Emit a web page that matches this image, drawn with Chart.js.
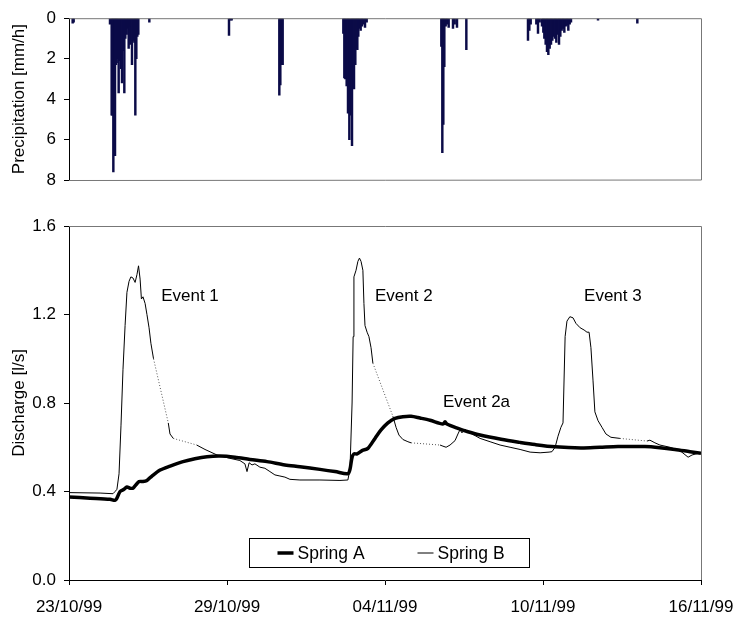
<!DOCTYPE html>
<html>
<head>
<meta charset="utf-8">
<script src="https://cdn.jsdelivr.net/npm/chart.js@4/dist/chart.umd.min.js"></script>
<style>
  html, body { margin: 0; padding: 0; background: #fff; }
  #wrap { position: relative; width: 738px; height: 617px; }
  #c1 { position: absolute; left: 0; top: 0; }
  #c2 { position: absolute; left: 0; top: 200px; }
</style>
</head>
<body>
<div id="wrap">
  <canvas id="c1" width="738" height="200"></canvas>
  <canvas id="c2" width="738" height="417"></canvas>
</div>
<script>
// ---------- DATA ----------
// time axis: days after 23/10/99 00:00
const xTickLabels = ['23/10/99', '29/10/99', '04/11/99', '10/11/99', '16/11/99'];

// hourly precipitation [mm/h] (only non-zero hours)
const precipDay = [
  0.139, 0.177,
  1.557, 1.620, 1.645, 1.684, 1.722, 1.747, 1.785, 1.810, 1.848, 1.886, 1.937, 1.975, 2.013, 2.063,
  2.101, 2.139, 2.190, 2.228, 2.266, 2.316, 2.354, 2.392, 2.443, 2.481, 2.519, 2.557, 2.595, 2.633,
  3.051,
  6.076, 6.127, 6.177,
  7.987, 8.025, 8.076, 8.114,
  10.418, 10.456, 10.494, 10.544, 10.595, 10.646, 10.696, 10.747, 10.785, 10.823, 10.873, 10.911,
  10.949, 10.987, 11.025, 11.076, 11.127, 11.177, 11.241, 11.304,
  14.139, 14.177, 14.215, 14.253, 14.304, 14.354, 14.418, 14.582, 14.646, 14.734,
  15.089,
  17.430, 17.481, 17.532, 17.747, 17.810, 17.873, 17.962, 18.013, 18.051, 18.101, 18.152, 18.203,
  18.253, 18.304, 18.354, 18.405, 18.456, 18.506, 18.557, 18.608, 18.658, 18.709, 18.759, 18.810,
  18.861, 18.911, 18.962, 19.013, 19.063,
  20.089, 21.582
];
const precipValue = [
  0.25, 0.2,
  0.3, 4.8, 4.8, 7.6, 4.5, 6.8, 2.3, 2.2, 2.0, 3.7, 2.1, 2.5, 3.2, 1.6,
  3.7, 1.0, 0.8, 0.5, 1.5, 1.3, 0.4, 2.3, 1.1, 1.2, 4.8, 2.0, 0.9, 0.8,
  0.2,
  0.85, 0.1, 0.1,
  3.8, 3.3, 2.3, 2.3,
  0.75, 2.95, 3.0, 3.35, 4.7, 6.0, 4.8, 6.3, 3.0, 3.5, 2.3, 1.5,
  1.55, 0.9, 0.5, 0.6, 0.4, 0.3, 0.45, 0.2,
  1.4, 6.65, 5.25, 2.4, 0.4, 0.3, 0.45, 0.5, 0.3, 0.45,
  1.55,
  1.1, 0.6, 0.3, 0.3, 0.75, 0.2, 0.4, 0.7, 1.0, 1.3, 1.65, 1.8,
  1.5, 1.3, 1.1, 0.9, 1.0, 1.2, 0.8, 1.3, 0.9, 0.6, 0.5, 0.7,
  0.4, 0.35, 0.6, 0.3, 0.2,
  0.1, 0.25
];

// Spring A discharge [l/s]
const springADay = [0, 0.80, 1.56, 1.75, 1.82, 1.94, 2.09, 2.20, 2.32, 2.43, 2.54, 2.66, 2.81, 2.96, 3.15,
  3.46, 3.84, 4.33, 4.78, 5.24, 5.73, 6.30, 6.87, 7.52, 8.20, 8.77, 9.53, 10.10, 10.59, 10.67,
  10.75, 10.82, 10.94, 11.13, 11.35, 11.62, 11.85, 12.11, 12.38, 12.68, 12.99, 13.33, 13.71, 14.20, 14.28,
  14.35, 14.77, 15.15, 15.61, 16.41, 17.13, 17.70, 18.46, 19.44, 20.16, 20.85, 21.87, 22.44, 23.01, 23.58, 24.0];
const springAValue = [0.375, 0.37, 0.365, 0.36, 0.37, 0.40, 0.41, 0.42, 0.415, 0.415, 0.43, 0.445, 0.445, 0.45, 0.47,
  0.497, 0.515, 0.535, 0.548, 0.557, 0.56, 0.555, 0.545, 0.535, 0.52, 0.512, 0.5, 0.49, 0.48, 0.5,
  0.555, 0.57, 0.57, 0.585, 0.595, 0.64, 0.678, 0.71, 0.73, 0.738, 0.74, 0.732, 0.722, 0.705, 0.715,
  0.705, 0.685, 0.67, 0.655, 0.636, 0.622, 0.612, 0.602, 0.597, 0.6, 0.603, 0.603, 0.598, 0.59, 0.58, 0.573];

// Spring B discharge [l/s]; null = missing measurement (interpolated, drawn dotted)
const springBDay = [0, 1.18, 1.67, 1.75, 1.82, 1.90, 1.975, 2.05, 2.13, 2.20, 2.28, 2.35, 2.43, 2.51, 2.58,
  2.64, 2.70, 2.75, 2.81, 2.89, 2.96, 3.04, 3.11, 3.21,
  3.5,
  3.77, 3.835, 3.96,
  4.4,
  4.85, 5.165, 5.62, 6.11, 6.49, 6.68, 6.76, 6.84, 6.95, 7.06, 7.25, 7.44, 7.63, 7.82, 8.01, 8.20,
  8.39, 8.77, 9.53, 10.29, 10.59, 10.67, 10.75, 10.79, 10.82, 10.90, 10.97, 11.03, 11.09, 11.16, 11.20,
  11.24, 11.32, 11.39, 11.47, 11.54,
  11.9,
  12.30, 12.42, 12.53, 12.68, 12.87, 12.99,
  13.5,
  14.09, 14.20, 14.32, 14.47, 14.66, 14.77, 14.85, 14.92, 15.04, 15.23, 15.61, 15.99, 16.37, 16.75,
  17.13, 17.51, 17.89, 18.23, 18.34, 18.46, 18.57, 18.68, 18.76, 18.84, 18.91, 19.02, 19.14, 19.25,
  19.41, 19.56, 19.67, 19.75, 19.82, 19.90, 19.97, 20.09, 20.24, 20.39, 20.58, 20.92,
  21.4,
  21.95, 22.06, 22.25, 22.44, 22.82, 23.20, 23.51, 23.66, 23.81, 24.0];
const springBValue = [0.395, 0.393, 0.39, 0.40, 0.41, 0.48, 0.70, 0.95, 1.15, 1.30, 1.35, 1.37, 1.365, 1.345, 1.38,
  1.42, 1.36, 1.27, 1.28, 1.25, 1.20, 1.14, 1.07, 1.00,
  null,
  0.71, 0.66, 0.64,
  null,
  0.61, 0.59, 0.565, 0.55, 0.54, 0.525, 0.49, 0.53, 0.52, 0.525, 0.51, 0.505, 0.49, 0.475, 0.47, 0.465,
  0.455, 0.452, 0.452, 0.45, 0.452, 0.50, 0.80, 1.10, 1.37, 1.40, 1.44, 1.455, 1.44, 1.40, 1.25,
  1.15, 1.12, 1.10, 1.05, 0.98,
  null,
  0.74, 0.69, 0.655, 0.635, 0.625, 0.62,
  null,
  0.61, 0.605, 0.60, 0.61, 0.63, 0.66, 0.68, 0.665, 0.68, 0.665, 0.64, 0.625, 0.61, 0.60,
  0.59, 0.578, 0.575, 0.578, 0.58, 0.60, 0.65, 0.69, 0.71, 1.10, 1.17, 1.19, 1.185, 1.16,
  1.14, 1.13, 1.12, 1.12, 1.05, 0.90, 0.76, 0.72, 0.69, 0.66, 0.645, 0.64,
  null,
  0.628, 0.632, 0.62, 0.61, 0.60, 0.585, 0.555, 0.565, 0.57, 0.575];

// event annotations (left edge of text in days, value in l/s)
const eventLabels = ['Event 1', 'Event 2', 'Event 2a', 'Event 3'];
const eventDay = [3.50, 11.62, 14.20, 19.56];
const eventValue = [1.28, 1.28, 0.805, 1.28];

// ---------- BUILD ----------
Chart.defaults.font.family = "'Liberation Sans', Arial, sans-serif";
Chart.defaults.font.size = 17;
Chart.defaults.color = '#000';

const precipPoints = precipDay.map((d, i) => ({ x: d, y: precipValue[i] }));
const springAPoints = springADay.map((d, i) => ({ x: d, y: springAValue[i] }));
const springBPoints = springBDay.map((d, i) => ({ x: d, y: springBValue[i] }));
// interpolated segments: join the measured points on either side of each gap
const springBGapPoints = [];
springBValue.forEach((v, i) => {
  if (v === null) {
    springBGapPoints.push({ x: springBDay[i - 1], y: springBValue[i - 1] });
    springBGapPoints.push({ x: springBDay[i + 1], y: springBValue[i + 1] });
    springBGapPoints.push({ x: springBDay[i + 1] + 0.001, y: null });
  }
});

function boxPlugin(withBottom) {
  return {
    id: 'box',
    afterDraw(chart) {
      const a = chart.chartArea, c = chart.ctx;
      c.save();
      c.strokeStyle = '#777';
      c.lineWidth = 1;
      c.beginPath();
      c.moveTo(a.left, a.top + 0.5); c.lineTo(a.right + 0.5, a.top + 0.5);
      c.lineTo(a.right + 0.5, a.bottom);
      if (withBottom) c.lineTo(a.left, a.bottom + 0.5);
      c.stroke();
      c.restore();
    }
  };
}

function fixX(h) {
  return function (s) { s.height = h; s.paddingLeft = 0; s.paddingRight = 0; };
}

new Chart(document.getElementById('c1'), {
  type: 'bar',
  data: {
    datasets: [{
      label: 'Precipitation',
      data: precipPoints,
      backgroundColor: '#0b0b48',
      borderWidth: 0,
      barThickness: 1.8
    }]
  },
  options: {
    responsive: false,
    animation: false,
    devicePixelRatio: 1,
    layout: { padding: { left: 0, right: 37, top: 16, bottom: 20 } },
    scales: {
      x: { type: 'linear', min: 0, max: 24, offset: false, display: false },
      y: {
        reverse: true, min: 0, max: 8,
        ticks: { stepSize: 2, padding: 8, font: { size: 17 } },
        grid: { drawOnChartArea: false, drawTicks: true, tickLength: 5, color: '#000' },
        border: { color: '#000', width: 1 },
        title: { display: true, text: 'Precipitation [mm/h]', font: { size: 17 }, padding: { top: 9, bottom: 0 } },
        afterFit(s) { s.width = 69; }
      }
    },
    plugins: { legend: { display: false }, tooltip: { enabled: false } }
  },
  plugins: [boxPlugin(true)]
});

const annotationsPlugin = {
  id: 'events',
  afterDatasetsDraw(chart) {
    const c = chart.ctx, xs = chart.scales.x, ys = chart.scales.y;
    c.save();
    c.fillStyle = '#000';
    c.font = "17px 'Liberation Sans', Arial, sans-serif";
    c.textAlign = 'left';
    c.textBaseline = 'middle';
    eventLabels.forEach((t, i) => {
      c.fillText(t, xs.getPixelForValue(eventDay[i]), ys.getPixelForValue(eventValue[i]));
    });
    c.restore();
  }
};

const legendPlugin = {
  id: 'customLegend',
  afterDraw(chart) {
    const c = chart.ctx, a = chart.chartArea;
    const w = 280, h = 29;
    const cx = (a.left + a.right) / 2 + 4;
    const x0 = Math.round(cx - w / 2) + 0.5, y0 = Math.round(a.bottom - 13 - h) + 0.5;
    c.save();
    c.fillStyle = '#fff';
    c.fillRect(x0, y0, w, h);
    c.strokeStyle = '#000';
    c.lineWidth = 1;
    c.strokeRect(x0, y0, w, h);
    c.font = "17.5px 'Liberation Sans', Arial, sans-serif";
    c.fillStyle = '#000';
    c.textBaseline = 'middle';
    c.textAlign = 'left';
    const ym = y0 + h / 2;
    const items = chart.data.datasets.filter(d => !d.hideInLegend);
    const offsets = [28, 168];
    items.forEach((d, i) => {
      const lx = x0 + offsets[i];
      c.strokeStyle = '#000';
      c.lineWidth = d.borderWidth;
      c.beginPath();
      c.moveTo(lx, ym); c.lineTo(lx + 16, ym);
      c.stroke();
      c.fillText(d.label, lx + 20, ym + 1);
    });
    c.restore();
  }
};

new Chart(document.getElementById('c2'), {
  type: 'line',
  data: {
    datasets: [
      { label: 'Spring A', data: springAPoints, borderColor: '#000', borderWidth: 3.5, pointRadius: 0, tension: 0.3, order: 1 },
      { label: 'Spring B', data: springBPoints, borderColor: '#000', borderWidth: 1, pointRadius: 0, spanGaps: false, order: 2 },
      { label: 'Spring B (interpolated)', hideInLegend: true, data: springBGapPoints, borderColor: '#555', borderWidth: 1,
        borderDash: [1, 2], pointRadius: 0, spanGaps: false, order: 3 }
    ]
  },
  options: {
    responsive: false,
    animation: false,
    devicePixelRatio: 1,
    layout: { padding: { left: 0, right: 37, top: 26, bottom: 0 } },
    scales: {
      x: {
        type: 'linear', min: 0, max: 24, offset: false,
        ticks: { stepSize: 6, padding: 12, maxRotation: 0, font: { size: 17 },
          callback: (v) => xTickLabels[Math.round(v / 6)] },
        grid: { drawOnChartArea: false, drawTicks: true, tickLength: 5, color: '#000' },
        border: { color: '#000', width: 1 },
        afterFit: fixX(37)
      },
      y: {
        min: 0, max: 1.6,
        ticks: { stepSize: 0.4, padding: 8, font: { size: 17 }, callback: (v) => v.toFixed(1) },
        grid: { drawOnChartArea: false, drawTicks: true, tickLength: 5, color: '#000' },
        border: { color: '#000', width: 1 },
        title: { display: true, text: 'Discharge [l/s]', font: { size: 17 }, padding: { top: 9, bottom: 0 } },
        afterFit(s) { s.width = 69; }
      }
    },
    plugins: { legend: { display: false }, tooltip: { enabled: false } }
  },
  plugins: [boxPlugin(false), annotationsPlugin, legendPlugin]
});
</script>
</body>
</html>
